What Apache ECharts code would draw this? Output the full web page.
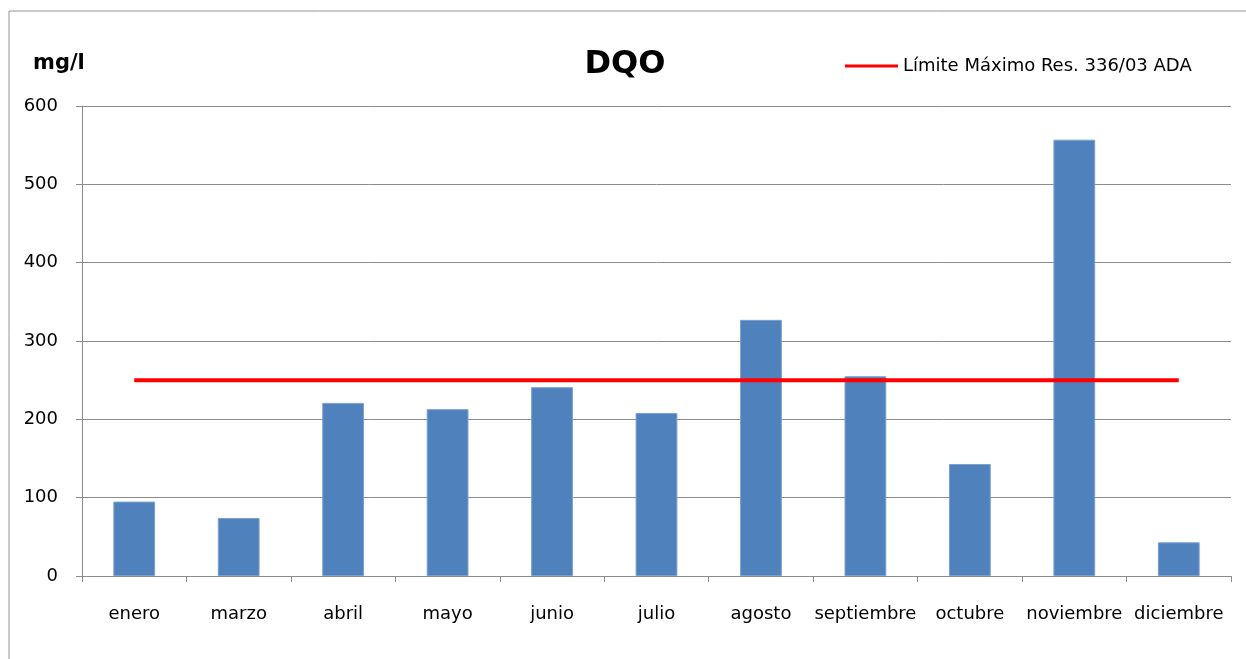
<!DOCTYPE html>
<html>
<head>
<meta charset="utf-8">
<script src="https://cdn.jsdelivr.net/npm/echarts@6/dist/echarts.min.js"></script>
<style>
  html, body { margin: 0; padding: 0; background: #fff; }
  #main { width: 1246px; height: 659px; }
</style>
</head>
<body>
<div id="main"></div>
<script>
// meses y valores de DQO (mg/l)
var meses = ['enero', 'marzo', 'abril', 'mayo', 'junio', 'julio', 'agosto', 'septiembre', 'octubre', 'noviembre', 'diciembre'];
var dqo = [95, 74, 221, 213, 241, 208, 327, 255, 143, 557, 43];
var limite = [250, 250, 250, 250, 250, 250, 250, 250, 250, 250, 250];
var nombreLimite = 'Límite Máximo Res. 336/03 ADA';

var fuente = 'DejaVu Sans';
var myChart = echarts.init(document.getElementById('main'));

var option = {
    animation: false,
    backgroundColor: '#fff',
    textStyle: { fontFamily: fuente },
    title: [
        {
            text: 'DQO',
            left: 620,
            top: 44,
            textAlign: 'center',
            textStyle: { fontFamily: fuente, fontSize: 32, fontWeight: 'bold', color: '#000' }
        },
        {
            text: 'mg/l',
            left: 28,
            top: 48,
            textStyle: { fontFamily: fuente, fontSize: 21, fontWeight: 'bold', color: '#000' }
        }
    ],
    legend: {
        left: 840,
        top: 52,
        icon: 'rect',
        itemWidth: 53,
        itemHeight: 3,
        itemGap: 5,
        data: [nombreLimite],
        textStyle: { fontFamily: fuente, fontSize: 18, color: '#000', padding: [0, 0, 0, 0] }
    },
    graphic: [
        {
            type: 'rect',
            shape: { x: 9, y: 11, width: 1300, height: 700 },
            style: { fill: 'none', stroke: '#949494', lineWidth: 1 },
            silent: true
        }
    ],
    grid: { left: 82, right: 15, top: 106, bottom: 83 },
    xAxis: {
        type: 'category',
        data: meses,
        axisLine: { lineStyle: { color: '#8c8c8c' } },
        axisTick: { show: true, length: 6, lineStyle: { color: '#8c8c8c' } },
        axisLabel: { color: '#000', fontSize: 18, margin: 29, fontFamily: fuente, interval: 0 }
    },
    yAxis: {
        type: 'value',
        min: 0,
        max: 600,
        interval: 100,
        axisLine: { show: true, lineStyle: { color: '#8c8c8c' } },
        axisTick: { show: true, length: 6, lineStyle: { color: '#8c8c8c' } },
        axisLabel: { color: '#000', fontSize: 18, margin: 24, fontFamily: fuente },
        splitLine: { lineStyle: { color: '#8c8c8c' } }
    },
    series: [
        {
            name: 'DQO',
            type: 'bar',
            data: dqo,
            barWidth: '40%',
            itemStyle: { color: '#4F81BD', borderColor: '#7BA0CF', borderWidth: 1 }
        },
        {
            name: nombreLimite,
            type: 'line',
            data: limite,
            symbol: 'none',
            lineStyle: { color: '#FF0000', width: 4 },
            itemStyle: { color: '#FF0000' },
            z: 5
        }
    ]
};

myChart.setOption(option);
</script>
</body>
</html>
